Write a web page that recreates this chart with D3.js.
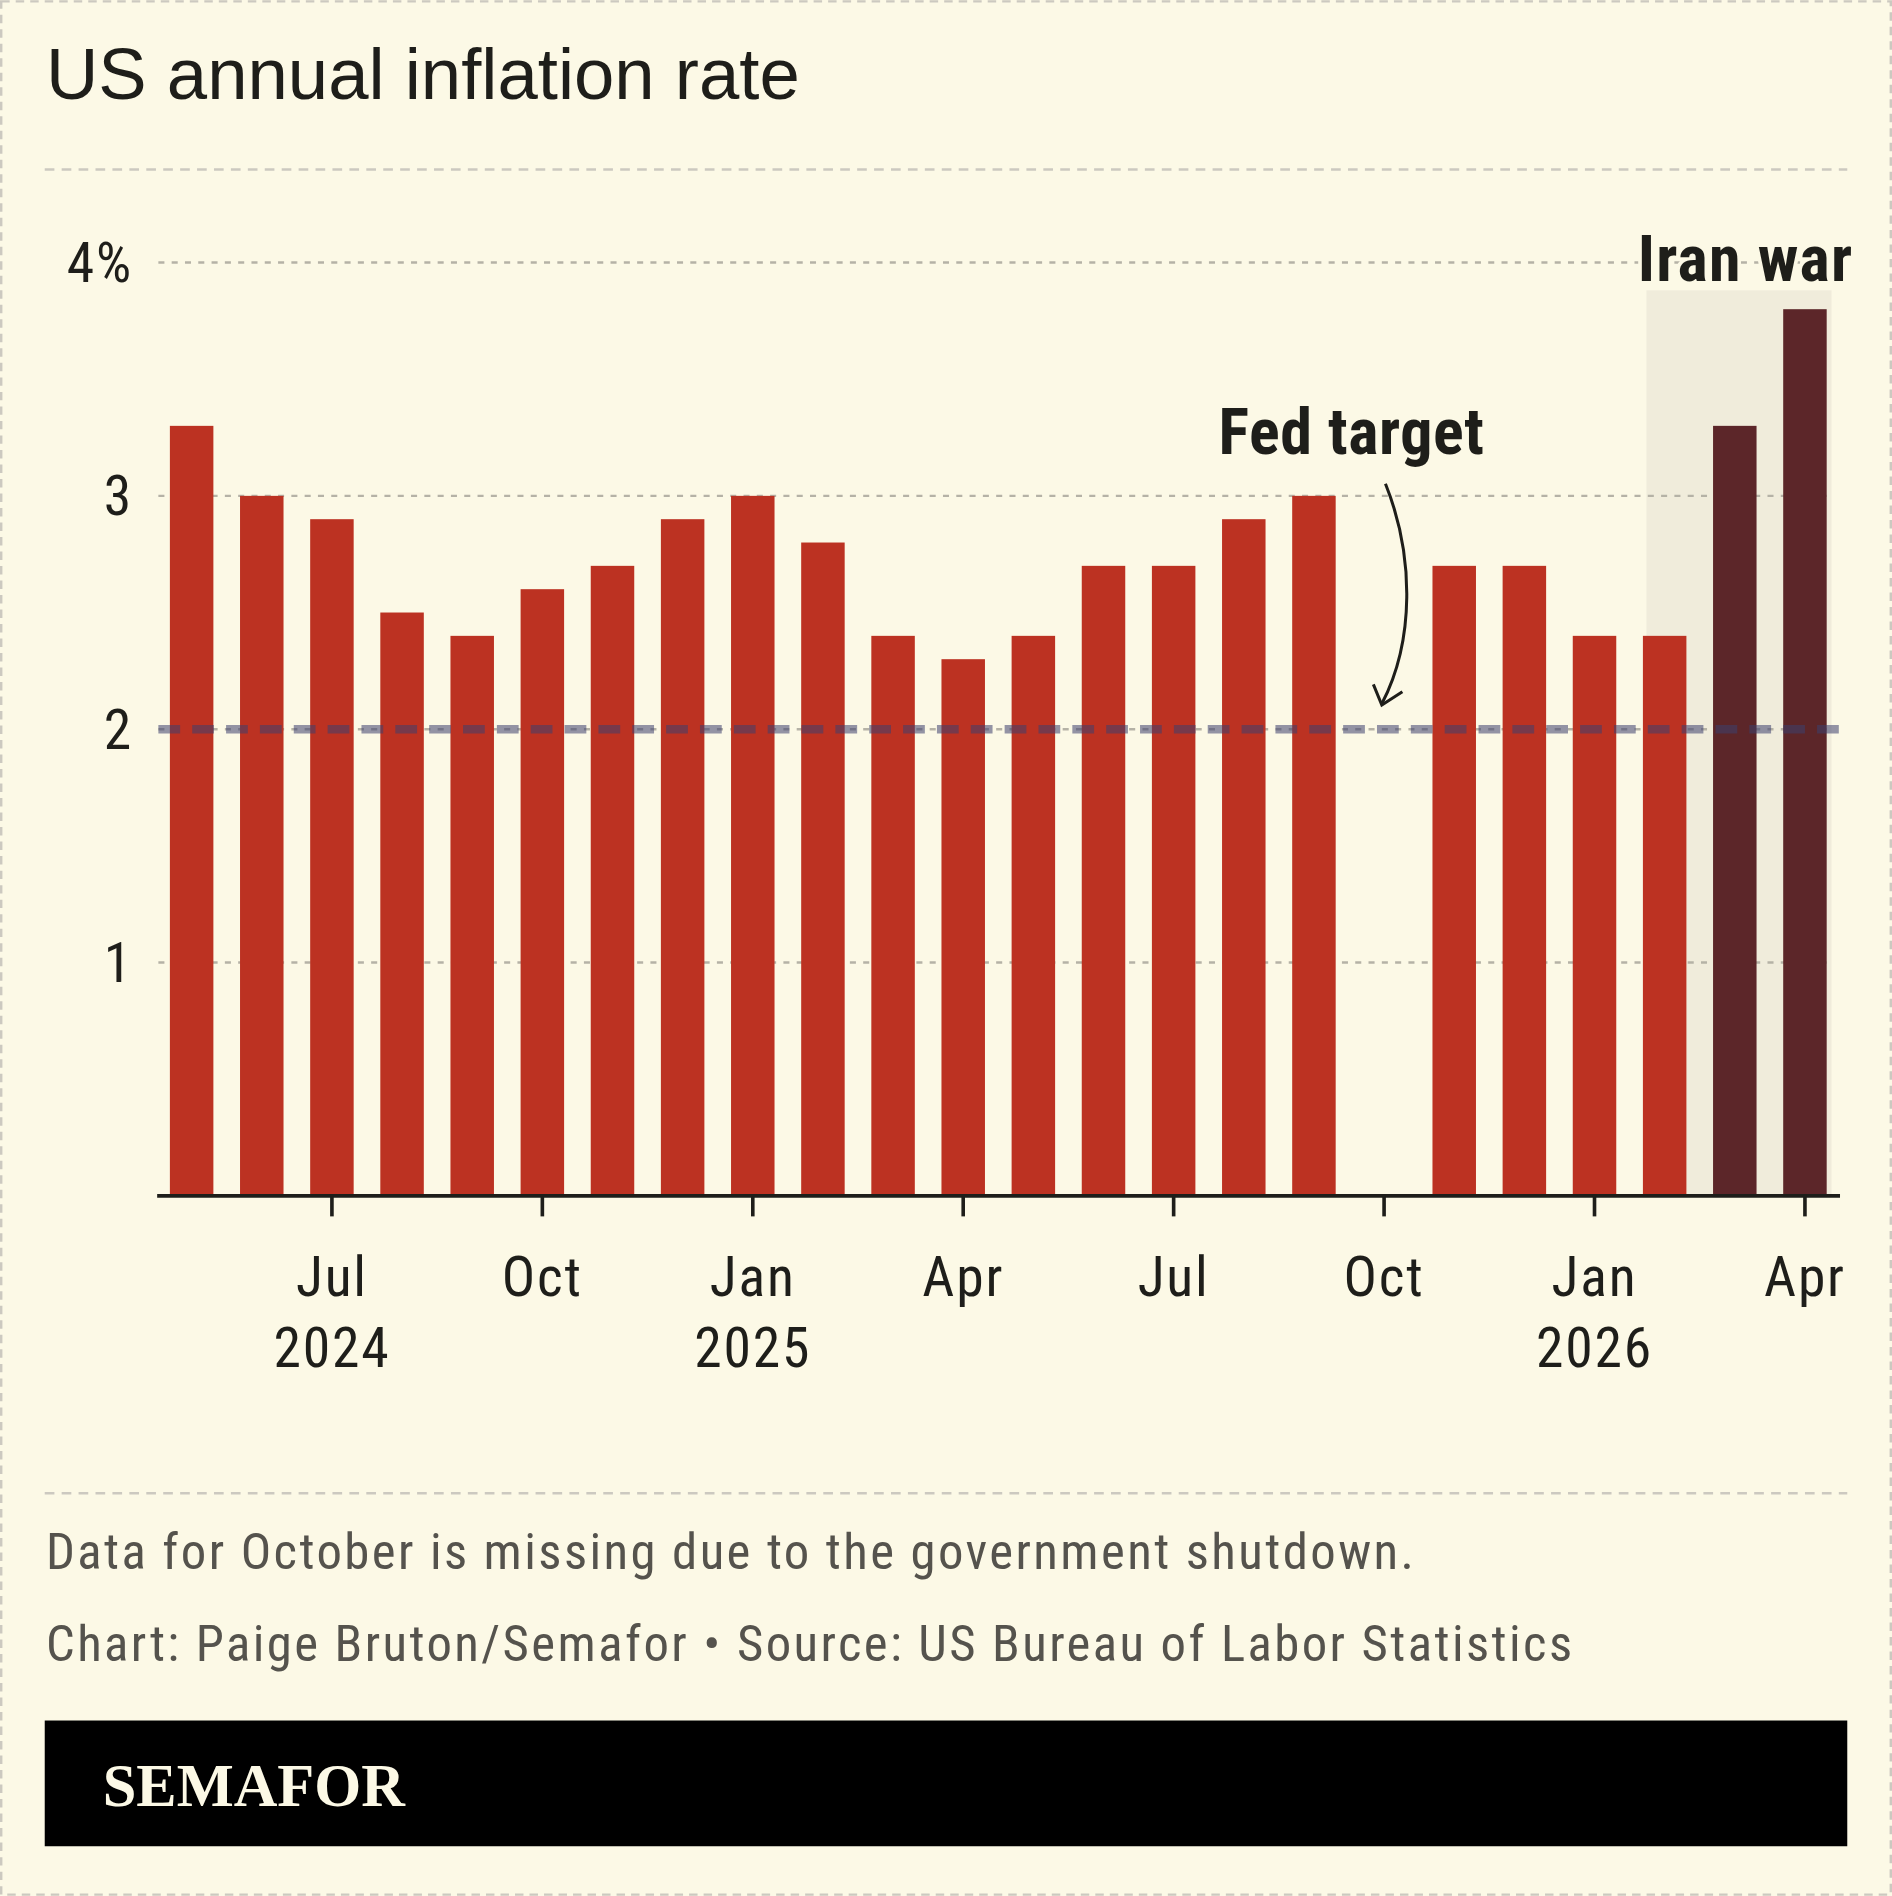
<!DOCTYPE html>
<html><head><meta charset="utf-8">
<script src="https://cdn.jsdelivr.net/npm/d3@7"></script>
<style>body{margin:0;background:#fcf9e6}svg{display:block}</style>
</head><body><div id="chart"></div>
<script>
// Data
const months = ["2024-05","2024-06","2024-07","2024-08","2024-09","2024-10","2024-11","2024-12",
  "2025-01","2025-02","2025-03","2025-04","2025-05","2025-06","2025-07","2025-08","2025-09","2025-10",
  "2025-11","2025-12","2026-01","2026-02","2026-03","2026-04"];
const values = [3.3,3.0,2.9,2.5,2.4,2.6,2.7,2.9,3.0,2.8,2.4,2.3,2.4,2.7,2.7,2.9,3.0,null,2.7,2.7,2.4,2.4,3.3,3.8];
const warMonths = ["2026-03","2026-04"];
const yTicks = [1,2,3,4];
const xTicks = [
  {m:"2024-07", l1:"Jul", l2:"2024"},{m:"2024-10", l1:"Oct"},{m:"2025-01", l1:"Jan", l2:"2025"},
  {m:"2025-04", l1:"Apr"},{m:"2025-07", l1:"Jul"},{m:"2025-10", l1:"Oct"},
  {m:"2026-01", l1:"Jan", l2:"2026"},{m:"2026-04", l1:"Apr"}];
const fedTarget = 2;

const W = 1565, H = 1568;
const svg = d3.select("#chart").append("svg")
  .attr("width", 1892).attr("height", 1896).attr("viewBox", `0 0 ${W} ${H}`);

const cond = "'Liberation Sans Narrow','Roboto Condensed','Arial Narrow',sans-serif";

svg.append("rect").attr("x",1).attr("y",1).attr("width",W-2).attr("height",H-2)
  .attr("fill","#fcf9e6").attr("stroke","#ccc9c0").attr("stroke-width",2).attr("stroke-dasharray","7,5");

svg.append("text").attr("x",38).attr("y",82).attr("font-family","'Liberation Sans',Arial,sans-serif")
  .attr("font-size",60).attr("fill","#1e1e1a").text("US annual inflation rate");

[140,1235].forEach(y => svg.append("line").attr("x1",37).attr("x2",1528).attr("y1",y).attr("y2",y)
  .attr("stroke","#ccc9c0").attr("stroke-width",2).attr("stroke-dasharray","8,6"));

const x = d3.scaleBand().domain(months).range([129.5,1522]).paddingInner(0.38).paddingOuter(0.19);
const y = d3.scaleLinear().domain([0,4]).range([989,217]);

// war shading
const ws = x(warMonths[0]) - x.step()*0.95, we = x(warMonths[1]) + x.bandwidth() + 4;
svg.append("rect").attr("x",ws).attr("y",240).attr("width",we-ws).attr("height",y(0)-240).attr("fill","#f0ecdb");

// gridlines
svg.selectAll(".grid").data(yTicks).join("line")
  .attr("x1",131).attr("x2",1515).attr("y1",d=>y(d)).attr("y2",d=>y(d))
  .attr("stroke","#b5b2a6").attr("stroke-width",2).attr("stroke-dasharray","5,6");
svg.selectAll(".ylab").data(yTicks).join("text")
  .attr("x",110).attr("y",d=>y(d)+16).attr("text-anchor","end")
  .attr("font-family",cond).attr("font-size",46).attr("letter-spacing",1.5).attr("fill","#1e1e1a")
  .text(d=>d===4?"4%":d);

// bars
svg.selectAll(".bar").data(months.map((m,i)=>({m,v:values[i]})).filter(d=>d.v!=null)).join("rect")
  .attr("x",d=>x(d.m)).attr("width",x.bandwidth())
  .attr("y",d=>y(d.v)).attr("height",d=>y(0)-y(d.v))
  .attr("fill",d=>warMonths.includes(d.m)?"#5c2629":"#bc3222");

// fed target line
svg.append("line").attr("x1",131).attr("x2",1521).attr("y1",y(fedTarget)).attr("y2",y(fedTarget))
  .attr("stroke","#3d3f6e").attr("stroke-opacity",0.55).attr("stroke-width",7).attr("stroke-dasharray","18,10");

// x axis
svg.append("line").attr("x1",130).attr("x2",1522).attr("y1",y(0)).attr("y2",y(0))
  .attr("stroke","#1e1e1a").attr("stroke-width",3);
const xc = m => x(m) + x.bandwidth()/2;
const tk = svg.selectAll(".xt").data(xTicks).join("g").attr("transform",d=>`translate(${xc(d.m)},0)`);
tk.append("line").attr("y1",y(0)).attr("y2",y(0)+17).attr("stroke","#1e1e1a").attr("stroke-width",3);
tk.append("text").attr("y",1072).attr("text-anchor","middle").attr("font-family",cond)
  .attr("font-size",46).attr("letter-spacing",1.5).attr("fill","#1e1e1a").text(d=>d.l1);
tk.append("text").attr("y",1131).attr("text-anchor","middle").attr("font-family",cond)
  .attr("font-size",46).attr("letter-spacing",1.5).attr("fill","#1e1e1a").text(d=>d.l2||"");

// annotations
svg.append("text").attr("x",1533).attr("y",232).attr("text-anchor","end").attr("font-family",cond)
  .attr("font-weight","bold").attr("font-size",53).attr("letter-spacing",1).attr("fill","#1e1e1a")
  .attr("stroke","#fcf9e6").attr("stroke-width",6).attr("paint-order","stroke").text("Iran war");
svg.append("text").attr("x",1118).attr("y",375).attr("text-anchor","middle").attr("font-family",cond)
  .attr("font-weight","bold").attr("font-size",53).attr("letter-spacing",0.5).attr("fill","#1e1e1a").text("Fed target");
svg.append("path").attr("d","M1146,400 C1170,460 1170,530 1143,582").attr("fill","none")
  .attr("stroke","#1e1e1a").attr("stroke-width",2.5);
svg.append("path").attr("d","M1136,566 L1143,583 L1160,572").attr("fill","none")
  .attr("stroke","#1e1e1a").attr("stroke-width",2.5);

// footer
svg.append("text").attr("x",38).attr("y",1298).attr("font-family",cond).attr("font-size",42)
  .attr("letter-spacing",2).attr("fill","#55534d").text("Data for October is missing due to the government shutdown.");
svg.append("text").attr("x",38).attr("y",1374).attr("font-family",cond).attr("font-size",42)
  .attr("letter-spacing",2).attr("fill","#55534d").text("Chart: Paige Bruton/Semafor \u2022 Source: US Bureau of Labor Statistics");
svg.append("rect").attr("x",37).attr("y",1423).attr("width",1491).attr("height",104).attr("fill","#000");
svg.append("text").attr("x",85).attr("y",1494).attr("font-family","'Liberation Serif','DejaVu Serif',serif")
  .attr("font-weight","bold").attr("font-size",50).attr("fill","#fcf9e6").text("SEMAFOR");
</script></body></html>
